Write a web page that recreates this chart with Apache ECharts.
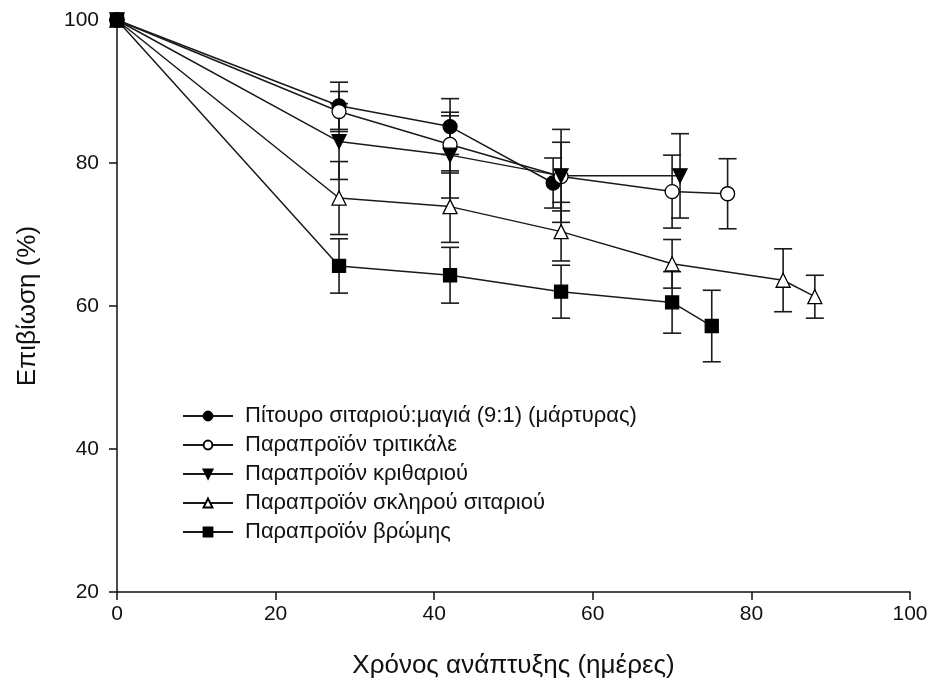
<!DOCTYPE html>
<html>
<head>
<meta charset="utf-8">
<script src="https://cdn.jsdelivr.net/npm/echarts@6/dist/echarts.min.js"></script>
<style>
  html, body { margin: 0; padding: 0; background: #fff; }
  #chart { width: 935px; height: 692px; }
</style>
</head>
<body>
<div id="chart"></div>
<script>
// series names (legend)
const names = [
    'Πίτουρο σιταριού:μαγιά (9:1) (μάρτυρας)',
    'Παραπροϊόν τριτικάλε',
    'Παραπροϊόν κριθαριού',
    'Παραπροϊόν σκληρού σιταριού',
    'Παραπροϊόν βρώμης'
];

// days, survival %, standard error
const ctrlX = [0, 28, 42, 55];
const ctrlY = [100, 88.0, 85.1, 77.2];
const ctrlErr = [0, 3.3, 3.9, 3.5];

const tritX = [0, 28, 42, 56, 70, 77];
const tritY = [100, 87.2, 82.6, 78.1, 76.0, 75.7];
const tritErr = [0, 2.8, 4.0, 4.8, 5.1, 4.9];

const barleyX = [0, 28, 42, 56, 71];
const barleyY = [100, 83.0, 81.1, 78.2, 78.2];
const barleyErr = [0, 5.3, 6.0, 6.5, 5.9];

const durumX = [0, 28, 42, 56, 70, 84, 88];
const durumY = [100, 75.1, 73.9, 70.4, 65.9, 63.6, 61.3];
const durumErr = [0, 5.1, 5.0, 4.1, 3.4, 4.4, 3.0];

const oatX = [0, 28, 42, 56, 70, 75];
const oatY = [100, 65.6, 64.3, 62.0, 60.5, 57.2];
const oatErr = [0, 3.8, 3.9, 3.7, 4.3, 5.0];

const xTicks = [0, 20, 40, 60, 80, 100];
const yTicks = [20, 40, 60, 80, 100];

const font = '"Liberation Sans", Arial, sans-serif';

const groups = [
    { x: ctrlX, y: ctrlY, err: ctrlErr, symbol: 'circle', fill: '#000', rotate: 0, size: 14 },
    { x: tritX, y: tritY, err: tritErr, symbol: 'circle', fill: '#fff', rotate: 0, size: 14 },
    { x: barleyX, y: barleyY, err: barleyErr, symbol: 'triangle', fill: '#000', rotate: 180, size: 14 },
    { x: durumX, y: durumY, err: durumErr, symbol: 'triangle', fill: '#fff', rotate: 0, size: 14 },
    { x: oatX, y: oatY, err: oatErr, symbol: 'rect', fill: '#000', rotate: 0, size: 13 }
];

function errorBars(api) {
    const x = api.value(0);
    const lo = api.coord([x, api.value(1)]);
    const hi = api.coord([x, api.value(2)]);
    const w = 9;
    const style = { stroke: '#1a1a1a', lineWidth: 1.6 };
    return {
        type: 'group',
        children: [
            { type: 'line', shape: { x1: lo[0], y1: lo[1], x2: hi[0], y2: hi[1] }, style },
            { type: 'line', shape: { x1: lo[0] - w, y1: lo[1], x2: lo[0] + w, y2: lo[1] }, style },
            { type: 'line', shape: { x1: hi[0] - w, y1: hi[1], x2: hi[0] + w, y2: hi[1] }, style }
        ]
    };
}

const series = [];
groups.forEach((g, i) => {
    const bars = [];
    g.x.forEach((d, k) => {
        if (g.err[k] > 0) bars.push([d, g.y[k] - g.err[k], g.y[k] + g.err[k]]);
    });
    series.push({
        type: 'custom',
        name: names[i] + ' err',
        renderItem: (params, api) => errorBars(api),
        data: bars,
        z: 1,
        silent: true
    });
});
groups.forEach((g, i) => {
    series.push({
        type: 'line',
        name: names[i],
        data: g.x.map((d, k) => [d, g.y[k]]),
        symbol: g.symbol,
        symbolSize: g.size,
        symbolRotate: g.rotate,
        showAllSymbol: true,
        z: 3,
        lineStyle: { color: '#1a1a1a', width: 1.5 },
        itemStyle: { color: g.fill, borderColor: '#000', borderWidth: 1.3, opacity: 1 },
        animation: false
    });
});

const chart = echarts.init(document.getElementById('chart'));
chart.setOption({
    backgroundColor: '#fff',
    animation: false,
    grid: { left: 117, right: 25, top: 20, bottom: 100 },
    legend: {
        data: names,
        orient: 'vertical',
        left: 177,
        top: 400,
        itemWidth: 50,
        itemHeight: 11,
        itemGap: 7,
        textStyle: { fontFamily: font, fontSize: 22, color: '#111', padding: [0, 0, 0, 7] },
        inactiveColor: '#111'
    },
    xAxis: {
        type: 'value',
        min: xTicks[0],
        max: xTicks[xTicks.length - 1],
        interval: 20,
        name: 'Χρόνος ανάπτυξης (ημέρες)',
        nameLocation: 'middle',
        nameGap: 61,
        nameTextStyle: { fontFamily: font, fontSize: 26, color: '#111' },
        axisLine: { lineStyle: { color: '#111', width: 1.5 } },
        axisTick: { length: 8, lineStyle: { color: '#111', width: 1.5 } },
        axisLabel: { fontFamily: font, fontSize: 21, color: '#111', margin: 12 },
        splitLine: { show: false }
    },
    yAxis: {
        type: 'value',
        min: yTicks[0],
        max: yTicks[yTicks.length - 1],
        interval: 20,
        name: 'Επιβίωση (%)',
        nameLocation: 'middle',
        nameGap: 76,
        nameTextStyle: { fontFamily: font, fontSize: 26, color: '#111' },
        axisLine: { show: true, lineStyle: { color: '#111', width: 1.5 } },
        axisTick: { show: true, length: 8, lineStyle: { color: '#111', width: 1.5 } },
        axisLabel: { fontFamily: font, fontSize: 21, color: '#111', margin: 18 },
        splitLine: { show: false }
    },
    series: series
});
</script>
</body>
</html>
